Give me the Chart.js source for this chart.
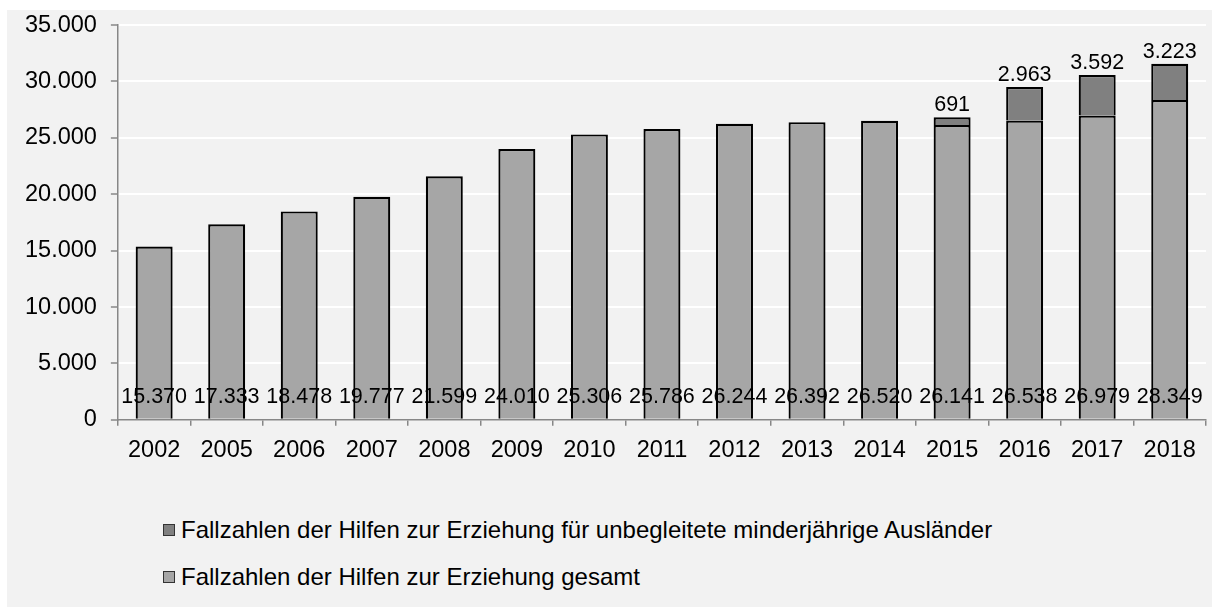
<!DOCTYPE html>
<html>
<head>
<meta charset="utf-8">
<script src="https://cdn.jsdelivr.net/npm/chart.js@4"></script>
<style>
  html, body { margin: 0; padding: 0; background: #ffffff; }
  body { width: 1212px; height: 607px; position: relative; overflow: hidden; font-family: "Liberation Sans", Arial, sans-serif; }
  #frame { position: absolute; left: 7px; top: 10px; width: 1205px; height: 597px; background: #f2f2f2; }
  #chartBox { position: absolute; left: 0; top: -13px; width: 1205px; height: 481px; }
  .leg { position: absolute; left: 156px; height: 30px; display: flex; align-items: center; font-size: 24px; color: #000; white-space: nowrap; }
  .sw { width: 10px; height: 10px; border: 1.5px solid #333; margin-right: 6px; }
</style>
</head>
<body>
<div id="frame">
  <div id="chartBox"><canvas id="c" width="1205" height="481"></canvas></div>
  <div class="leg" id="leg1" style="top:505px;"><span class="sw" style="background:#808080"></span><span>Fallzahlen der Hilfen zur Erziehung für unbegleitete minderjährige Ausländer</span></div>
  <div class="leg" id="leg2" style="top:552px;"><span class="sw" style="background:#a6a6a6"></span><span>Fallzahlen der Hilfen zur Erziehung gesamt</span></div>
</div>
<script>
const years = ['2002','2005','2006','2007','2008','2009','2010','2011','2012','2013','2014','2015','2016','2017','2018'];
const gesamt = [15370,17333,18478,19777,21599,24010,25306,25786,26244,26392,26520,26141,26538,26979,28349];
const uma = [null,null,null,null,null,null,null,null,null,null,null,691,2963,3592,3223];
const labelGesamt = 'Fallzahlen der Hilfen zur Erziehung gesamt';
const labelUma = 'Fallzahlen der Hilfen zur Erziehung für unbegleitete minderjährige Ausländer';

function fmt(v) { return String(Math.round(v)).replace(/\B(?=(\d{3})+(?!\d))/g, '.'); }

const FONT = '"Liberation Sans", Arial, sans-serif';

const labelPlugin = {
  id: 'barLabels',
  afterDatasetsDraw(chart) {
    const ctx = chart.ctx;
    ctx.save();
    ctx.font = '21.5px ' + FONT;
    ctx.fillStyle = '#000';
    ctx.textAlign = 'center';
    ctx.textBaseline = 'middle';
    const m0 = chart.getDatasetMeta(0);
    m0.data.forEach((el, i) => {
      const v = chart.data.datasets[0].data[i];
      if (v == null) return;
      ctx.fillText(fmt(v), el.x, el.base - 22);
    });
    const m1 = chart.getDatasetMeta(1);
    m1.data.forEach((el, i) => {
      const v = chart.data.datasets[1].data[i];
      if (v == null) return;
      ctx.fillText(fmt(v), el.x, el.y - 12);
    });
    ctx.restore();
  }
};

new Chart(document.getElementById('c'), {
  type: 'bar',
  data: {
    labels: years,
    datasets: [
      { label: labelGesamt, data: gesamt, backgroundColor: '#a6a6a6', borderColor: '#000', borderWidth: 2.2 },
      { label: labelUma, data: uma, backgroundColor: '#808080', borderColor: '#000', borderWidth: 2.2 }
    ]
  },
  options: {
    responsive: false,
    animation: false,
    layout: { padding: { left: 4, top: 4, right: 6, bottom: 2 } },
    datasets: { bar: { categoryPercentage: 1, barPercentage: 0.51 } },
    plugins: { legend: { display: false }, tooltip: { enabled: false } },
    scales: {
      x: {
        stacked: true,
        grid: { drawOnChartArea: false, drawTicks: true, tickLength: 6, color: '#878787', lineWidth: 1.5 },
        border: { color: '#878787', width: 1.5 },
        ticks: { color: '#000', font: { family: FONT, size: 23.5 }, padding: 11, maxRotation: 0, autoSkip: false }
      },
      y: {
        stacked: true,
        min: 0,
        max: 35000,
        grid: {
          color: (c) => (c.tick && c.tick.value === 0) ? 'rgba(0,0,0,0)' : '#ffffff',
          lineWidth: 2,
          tickLength: 7,
          tickColor: '#878787',
          tickWidth: 1.5
        },
        border: { color: '#878787', width: 1.5 },
        ticks: { stepSize: 5000, color: '#000', font: { family: FONT, size: 23.5 }, padding: 14, callback: (v) => fmt(v) }
      }
    }
  },
  plugins: [labelPlugin]
});
</script>
</body>
</html>
